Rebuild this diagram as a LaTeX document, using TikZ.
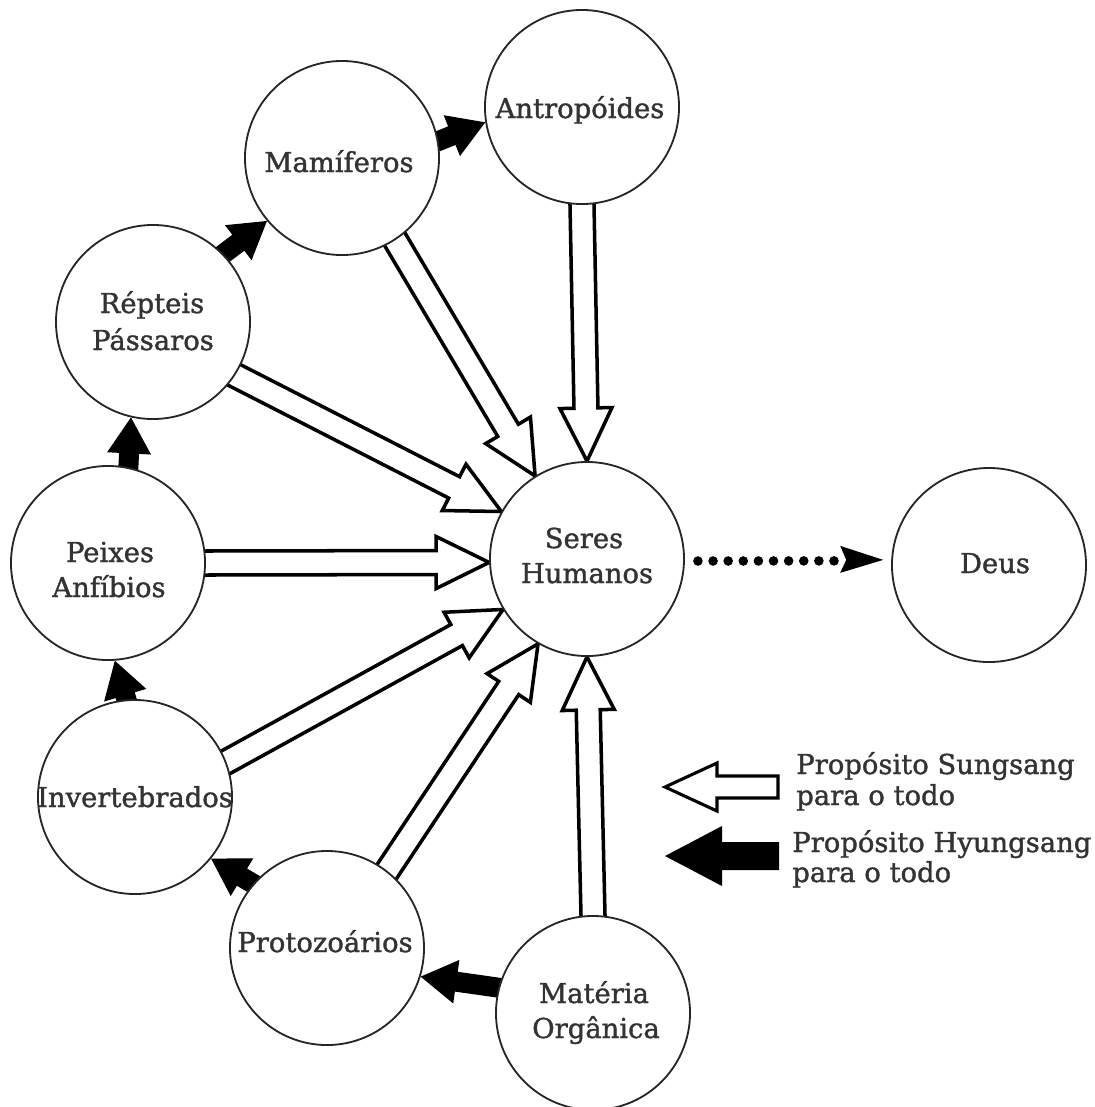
\documentclass[tikz,border=0pt]{standalone}
\usepackage{fontspec}
\setmainfont{DejaVu Serif}
\newfontfamily\labelfont{DejaVu Serif}[FakeBold=1.3]
\usetikzlibrary{calc,backgrounds}

% Block arrow from #2 (tail) to #3 (tip): #4 shaft half-width,
% #5 head half-width, #6 head length, #7 optional closing of the outline.
\newcommand\blockarrow[7]{%
  \coordinate (bt) at ($(#2)!-0.1cm!(#3)$);
  \coordinate (bp) at (#3);
  \coordinate (bh) at ($(bp)!#6!(bt)$);
  \path[#1] ($(bt)!#4!90:(bp)$) -- ($(bh)!#4!90:(bp)$) -- ($(bh)!#5!90:(bp)$) -- (bp)
    -- ($(bh)!#5!-90:(bp)$) -- ($(bh)!#4!-90:(bp)$) -- ($(bt)!#4!-90:(bp)$) #7;
}
\newcommand\openflow[2]{\blockarrow{openarrow}{#1}{#2}{0.3cm}{0.65cm}{1.325cm}{}}
\newcommand\solidflow[2]{\blockarrow{solidarrow}{#1}{#2}{0.25cm}{0.55cm}{0.9cm}{-- cycle}}

\tikzset{
  bubble/.style={circle, draw=black!85, line width=1.3pt, fill=white,
    minimum size=4.85cm, inner sep=0pt},
  lbl/.style={anchor=base, text=black!80, inner sep=0pt,
    font=\labelfont\fontsize{19.5pt}{24pt}\selectfont},
  keytext/.style={lbl, anchor=base west},
  openarrow/.style={fill=white, draw=black, line width=2.5pt, line join=miter},
  solidarrow/.style={fill=black},
  dotline/.style={line width=0.24cm, line cap=round, dash pattern=on 0pt off 0.3778cm},
}

\begin{document}
\begin{tikzpicture}[x=0.025cm, y=-0.025cm]
\begin{pgfonlayer}{background}
  \fill[white] (0,0) rectangle (1094,1107);
\end{pgfonlayer}
\useasboundingbox (0,0) rectangle (1094,1107);

% stages
\node[bubble] (ant) at (582,107) {};
\node[bubble] (mam) at (342,158) {};
\node[bubble] (rep) at (153,322) {};
\node[bubble] (pei) at (108,563) {};
\node[bubble] (inv) at (135,797) {};
\node[bubble] (pro) at (327,948) {};
\node[bubble] (mat) at (593,1013) {};
\node[bubble] (ser) at (587,559) {};
\node[bubble] (deu) at (989,565) {};

% labels
\node[lbl] (ant-t)  at (580,118) {Antropóides};
\node[lbl] (mam-t)  at (339,172) {Mamíferos};
\node[lbl] (rep-t1) at (152,313) {Répteis};
\node[lbl] (rep-t2) at (153,350) {Pássaros};
\node[lbl] (pei-t1) at (110,562) {Peixes};
\node[lbl] (pei-t2) at (109,597) {Anfíbios};
\node[lbl] (inv-t)  at (135,807) {Invertebrados};
\node[lbl] (pro-t)  at (325,952) {Protozoários};
\node[lbl] (mat-t1) at (594,1003) {Matéria};
\node[lbl] (mat-t2) at (596,1038) {Orgânica};
\node[lbl] (ser-t1) at (584,548) {Seres};
\node[lbl] (ser-t2) at (587,583) {Humanos};
\node[lbl] (deu-t)  at (995,573) {Deus};

% arrows, kept behind the circles
\begin{pgfonlayer}{background}
  \openflow{ant.-90}{ser.90}
  \openflow{mam.-57.6}{ser.122}
  \openflow{rep.-33.8}{ser.151.2}
  \openflow{pei.0}{ser.182}
  \openflow{inv.21.2}{ser.211.8}
  \openflow{pro.52.4}{ser.240.2}
  \openflow{mat.90}{ser.-90}

  \solidflow{mam.10.4}{ant.189.6}
  \solidflow{rep.44}{mam.220}
  \solidflow{pei.78}{rep.257}
  \solidflow{inv.95.4}{pei.-86}
  \solidflow{pro.139}{inv.-39}
  \solidflow{mat.165}{pro.-17}
\end{pgfonlayer}

% dotted link towards Deus
\draw[dotline] ($(ser.0)+(13,2)$) -- ($(deu.177)+(-56,1)$);
\fill ($(deu.177)+(-8,0)$) -- ($(deu.177)+(-51,-14)$) -- ($(deu.177)+(-45,0)$)
  -- ($(deu.177)+(-51,13)$) -- cycle;

% key
\coordinate (key-open-tail) at (774,787);
\coordinate (key-open-tip) at (665,787);
\coordinate (key-solid-tail) at (775,856);
\coordinate (key-solid-tip) at (665,856);
\blockarrow{openarrow, line width=2.2pt}{key-open-tail}{key-open-tip}{0.275cm}{0.6cm}{1.3cm}{-- cycle}
\blockarrow{solidarrow}{key-solid-tail}{key-solid-tip}{0.35cm}{0.75cm}{1.425cm}{-- cycle}

\node[keytext] (key1a) at (796,774) {Propósito Sungsang};
\node[keytext] (key1b) at (796,805) {para o todo};
\node[keytext] (key2a) at (792,852) {Propósito Hyungsang};
\node[keytext] (key2b) at (792,882) {para o todo};
\end{tikzpicture}
\end{document}
